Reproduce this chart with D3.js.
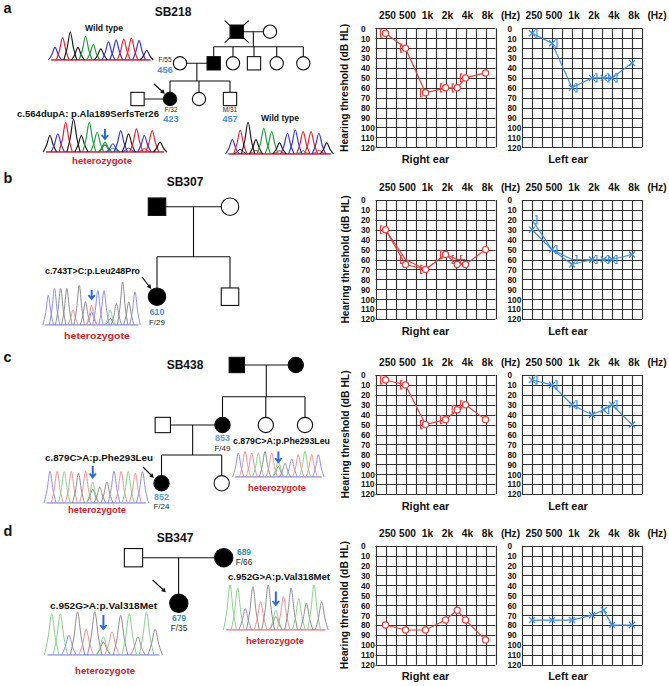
<!DOCTYPE html>
<html><head><meta charset="utf-8">
<script src="https://cdn.jsdelivr.net/npm/d3@7"></script>
<style>
body{margin:0;background:#fff}
svg{display:block}
text{font-family:Arial,"Liberation Sans",sans-serif}
</style>
</head><body>
<svg id="c" width="669" height="686"></svg>
<script>
// ================= DATA =================
const panelLetters = ["a","b","c","d"];
const familyIds = ["SB218","SB307","SB438","SB347"];
const freqs = [250,500,1000,2000,3000,4000,8000];
const freqTickValues = [250,500,1000,2000,4000,8000];
const freqTickLabels = ["250","500","1k","2k","4k","8k"];
const dbTicks = [0,10,20,30,40,50,60,70,80,90,100,110,120];
const earTitles = ["Right ear","Left ear"];
const yTitle = "Hearing threshold (dB HL)";

// audiogram thresholds (dB HL) at freqs; null = not measured
const rightAirA  = [5,20,65,60,60,50,45];
const rightBoneA = [5,20,65,60,60,50,null];
const leftAirA   = [5,15,60,50,50,50,35];
const leftBoneA  = [5,15,60,50,50,50,null];
const rightAirB  = [30,65,70,55,65,65,50];
const rightBoneB = [30,60,70,55,60,60,null];
const leftAirB   = [30,50,65,60,60,60,55];
const leftBoneB  = [20,50,60,60,60,60,null];
const rightAirC  = [5,10,50,45,35,30,45];
const rightBoneC = [5,10,50,45,35,30,null];
const leftAirC   = [5,10,30,40,35,30,50];
const leftBoneC  = [5,10,30,null,35,30,null];
const rightAirD  = [80,85,85,75,65,75,95];
const leftAirD   = [75,75,75,70,65,80,80];

// variant labels
const variantA = "c.564dupA: p.Ala189SerfsTer26";
const variantB = "c.743T>C:p.Leu248Pro";
const variantC = "c.879C>A:p.Phe293Leu";
const variantD = "c.952G>A:p.Val318Met";
const hetLabel = "heterozygote";
const wtLabel = "Wild type";

// chromatogram peaks: base calls and relative peak heights
const chromA1Bases = "CTGGAAGCCTTCG";
const chromA1Heights = [.45,.8,1,.45,.85,.55,.4,.65,.72,.75,.78,.7,.35];
const chromA2Bases = "GCTGGAAACCGTCTG";
const chromA2Heights = [.5,.55,.9,1,.5,.9,.6,.3,.25,.65,.55,.7,.5,.65,.3];
const chromA2Minor = [[7,"G",.22],[8,"A",.12],[10,"C",.12],[12,"T",.1]];
const chromA3Bases = "CTGGAAGCCTTCG";
const chromA3Heights = [.45,.75,1,.45,.8,.7,.35,.65,.75,.7,.7,.65,.35];
const chromA3Minor = [[1,"G",.15],[3,"T",.12],[6,"T",.1],[9,"A",.1],[11,"T",.12]];
const chromBBases = "CCGGTGGTCCAGGGC";
const chromBHeights = [.69,.85,.85,.85,.35,.92,.54,.46,.8,.8,.35,.5,1,.54,.77];
const chromBMinor = [[7,"C",.3],[10,"G",.15]];
const chromC1Bases = "CTATGTAGGCTATC";
const chromC1Heights = [.9,.9,.9,.9,.85,.9,.6,.45,.6,.9,.9,.9,.85,.9];
const chromC1Minor = [[6,"G",.4]];
const chromC2Bases = "CTTAGTAGCTATC";
const chromC2Heights = [.8,.85,.8,.8,.85,.8,.55,.45,.6,.75,.85,.75,.75];
const chromC2Minor = [[6,"G",.35]];
const chromD1Bases = "AACGTGATGAGAG";
const chromD1Heights = [.96,.96,.46,1,.6,1,.42,.54,.92,.96,.42,1,.6];
const chromD1Minor = [[6,"G",.3]];
const chromD2Bases = "AACGTGATGAGAG";
const chromD2Heights = [1,.93,.48,.96,.63,1,.44,.74,.93,.7,.6,1,.63];
const chromD2Minor = [[6,"G",.3]];

// pedigree members: sex, affected, deceased, age label, sample id
const pedA = [
  {sex:"M",aff:1,dead:1},{sex:"F",aff:0},
  {sex:"F",aff:0,age:"F/55",num:"456"},{sex:"M",aff:1},{sex:"F",aff:0},{sex:"M",aff:0},{sex:"F",aff:0},{sex:"F",aff:0},
  {sex:"M",aff:0},{sex:"F",aff:1,age:"F/32",num:"423",proband:1},{sex:"F",aff:0},{sex:"M",aff:0,age:"M/31",num:"457"}
];
const pedACouples = [[0,1],[2,3],[8,9]];
const pedASibs = [{couple:0,kids:[3,4,5,6,7]},{couple:1,kids:[9,10,11]}];
const pedB = [{sex:"M",aff:1},{sex:"F",aff:0},{sex:"F",aff:1,num:"610",age:"F/29",proband:1},{sex:"M",aff:0}];
const pedBCouples = [[0,1]];
const pedBSibs = [{couple:0,kids:[2,3]}];
const pedC = [{sex:"M",aff:1},{sex:"F",aff:1},
  {sex:"M",aff:0},{sex:"F",aff:1,num:"853",age:"F/49"},{sex:"F",aff:0},{sex:"F",aff:0},
  {sex:"F",aff:1,num:"852",age:"F/24",proband:1},{sex:"F",aff:0}];
const pedCCouples = [[0,1],[2,3]];
const pedCSibs = [{couple:0,kids:[3,4,5]},{couple:1,kids:[6,7]}];
const pedD = [{sex:"M",aff:0},{sex:"F",aff:1,num:"689",age:"F/66"},{sex:"F",aff:1,num:"679",age:"F/35",proband:1}];
const pedDCouples = [[0,1]];
const pedDSibs = [{couple:0,kids:[2]}];

// ================= LAYOUT =================
const svg = d3.select("#c");
const RED = "#e8403c", BLUE = "#3c8fe2";
const GRID_W = 120, GRID_H = 119;
const gridTops = [28.3, 200, 375, 545.7];
const rightX0 = 375.5, leftX0 = 522;
const rowLetterY = [8, 178, 357, 531];
const famTitlePos = [[173,12],[185,182],[185,365],[175,538]];

function txt(x,y,str,o={}){
  const t = svg.append("text").attr("x",x).attr("y",y).attr("dominant-baseline","central")
    .attr("text-anchor",o.anchor||"middle").attr("font-size",o.size||10)
    .attr("font-weight",o.weight||"normal").attr("fill",o.fill||"#000").text(str);
  if(o.len) t.attr("textLength",o.len).attr("lengthAdjust","spacingAndGlyphs");
  if(o.rotate!=null) t.attr("transform",`rotate(${o.rotate},${x},${y})`);
  return t;
}

// ---------- Audiogram ----------
function audiogram(x0, y0, air, bone, boneLine, color, ear){
  const g = svg.append("g");
  const x = d3.scaleLog().base(2).domain([250/Math.SQRT2, 8000*Math.SQRT2]).range([x0, x0+GRID_W]);
  const y = d3.scaleLinear().domain([0,120]).range([y0, y0+GRID_H]);
  const vLines = d3.range(13).map(k => 250/Math.SQRT2*Math.pow(2,k/2));
  g.selectAll(".v").data(vLines).join("line")
    .attr("x1",d=>Math.round(x(d))+.5).attr("x2",d=>Math.round(x(d))+.5)
    .attr("y1",y(0)).attr("y2",y(120)).attr("stroke","#333").attr("stroke-width",1.15);
  g.selectAll(".h").data(dbTicks).join("line")
    .attr("y1",d=>Math.round(y(d))+.5).attr("y2",d=>Math.round(y(d))+.5)
    .attr("x1",x0).attr("x2",x0+GRID_W).attr("stroke","#333").attr("stroke-width",1.15);

  const ax = d3.axisTop(x).tickValues(freqTickValues)
    .tickFormat(d=>freqTickLabels[freqTickValues.indexOf(d)]).tickSize(0).tickPadding(0);
  const axg = g.append("g").attr("transform",`translate(0,${y0-12.5})`).call(ax);
  axg.select(".domain").remove();
  axg.selectAll("text").attr("y",0).attr("dy","0.35em").attr("dx","1.5")
    .attr("font-size",10.2).attr("font-weight","bold").attr("fill","#111")
    .attr("font-family",'Arial,"Liberation Sans",sans-serif');
  txt(x0+135, y0-12.5, "(Hz)", {size:10.2, weight:"bold", fill:"#111"});

  const ay = d3.axisLeft(y).tickValues(dbTicks).tickSize(0).tickPadding(0);
  const ayg = g.append("g").attr("transform",`translate(${x0},0)`).call(ay);
  ayg.select(".domain").remove();
  ayg.selectAll("text").attr("x",-14.5).attr("text-anchor","start").attr("dy","0.35em")
    .attr("font-size",8.3).attr("font-weight","bold").attr("fill","#111")
    .attr("font-family",'Arial,"Liberation Sans",sans-serif');

  const pts = a => freqs.map((f,i)=>[f,a[i]]);
  const line = d3.line().defined(d=>d[1]!=null).x(d=>x(d[0])).y(d=>y(d[1]));
  if(bone && boneLine){
    g.append("path").attr("d",line(pts(bone))).attr("fill","none").attr("stroke",color).attr("stroke-width",1.2);
  }
  g.append("path").attr("d",line(pts(air))).attr("fill","none").attr("stroke",color).attr("stroke-width",1.2);

  const airPts = pts(air).filter(d=>d[1]!=null);
  if(ear==="R"){
    g.selectAll(".m").data(airPts).join("circle").attr("cx",d=>x(d[0])).attr("cy",d=>y(d[1]))
      .attr("r",3.1).attr("fill","#fff").attr("stroke",color).attr("stroke-width",1.2);
  } else {
    g.selectAll(".m").data(airPts).join("path")
      .attr("d",d=>{const cx=x(d[0]),cy=y(d[1]),s=3;return `M${cx-s},${cy-s}L${cx+s},${cy+s}M${cx-s},${cy+s}L${cx+s},${cy-s}`;})
      .attr("stroke",color).attr("stroke-width",1.3).attr("fill","none");
  }
  if(bone){
    const bp = pts(bone).filter(d=>d[1]!=null);
    g.selectAll(".b").data(bp).join("path")
      .attr("d",d=>{const cx=x(d[0]),cy=y(d[1]);
        return ear==="R" ? `M${cx-3},${cy-4}h-2v8h2` : `M${cx+3},${cy-4}h2v8h-2`;})
      .attr("stroke",color).attr("stroke-width",1.2).attr("fill","none");
  }
  txt(x0+50+(ear==="R"?0:-4), y0+GRID_H+11.5, ear==="R"?earTitles[0]:earTitles[1], {size:11, weight:"bold", fill:"#111"});
}

const audioRows = [
  [rightAirA,rightBoneA,leftAirA,leftBoneA,false],
  [rightAirB,rightBoneB,leftAirB,leftBoneB,true],
  [rightAirC,rightBoneC,leftAirC,leftBoneC,false],
  [rightAirD,null,leftAirD,null,false]
];
audioRows.forEach((r,i)=>{
  audiogram(rightX0, gridTops[i], r[0], r[1], r[4], RED, "R");
  audiogram(leftX0, gridTops[i], r[2], r[3], r[4], BLUE, "L");
  txt(345, gridTops[i]+GRID_H/2, yTitle, {size:10.3, weight:"bold", rotate:-90, fill:"#111"});
});

// ---------- Panel letters & family titles ----------
panelLetters.forEach((l,i)=>{
  txt(3.5, rowLetterY[i], l, {size:14.5, weight:"bold", anchor:"start", fill:"#111"});
  txt(famTitlePos[i][0], famTitlePos[i][1], familyIds[i], {size:12, weight:"bold", fill:"#111"});
});

// ---------- Chromatograms ----------
const BRIGHT = {A:"#1a9c3a",C:"#2f35d8",G:"#1a1a1a",T:"#e0212b"};
const PALE = {A:"#86d486",C:"#8f8fe8",G:"#8c8c8c",T:"#ec9393"};
function chrom(x0,w,y0,h,bases,heights,minor,pale,arrow){
  const col = pale?PALE:BRIGHT;
  const n = bases.length;
  const xi = d3.scaleLinear().domain([-0.5,n-0.5]).range([x0,x0+w]);
  const yh = d3.scaleLinear().domain([0,1]).range([y0+h,y0]);
  const g = svg.append("g");
  const peak = d3.line().curve(d3.curveMonotoneX).x(d=>xi(d[0])).y(d=>yh(d[1]));
  const shape = (i,hh)=>[[i-0.85,0],[i-0.42,hh*0.42],[i,hh],[i+0.42,hh*0.42],[i+0.85,0]];
  g.append("line").attr("x1",x0).attr("x2",x0+w).attr("y1",y0+h-0.3).attr("y2",y0+h-0.3)
    .attr("stroke",col.C).attr("stroke-width",0.9);
  g.append("line").attr("x1",x0).attr("x2",x0+w).attr("y1",y0+h+0.5).attr("y2",y0+h+0.5)
    .attr("stroke",col.T).attr("stroke-width",0.8).attr("opacity",0.8);
  (minor||[]).forEach(m=>{
    g.append("path").attr("d",peak(shape(m[0],m[2]))).attr("fill","none").attr("stroke",col[m[1]]).attr("stroke-width",1);
  });
  bases.split("").forEach((b,i)=>{
    g.append("path").attr("d",peak(shape(i,heights[i]))).attr("fill","none")
      .attr("stroke",col[b]).attr("stroke-width",pale?1:1.15);
  });
  if(arrow){
    const ax = xi(arrow[0]);
    g.append("path").attr("d",`M${ax},${arrow[1]}V${arrow[2]}M${ax-3.2},${arrow[2]-4}L${ax},${arrow[2]}L${ax+3.2},${arrow[2]-4}`)
      .attr("stroke","#2f6bd6").attr("stroke-width",2).attr("fill","none");
  }
}
chrom(51.2,99.3,32,28,chromA1Bases,chromA1Heights,null,false,null);
chrom(46,118,119,33,chromA2Bases,chromA2Heights,chromA2Minor,false,[7,129,139]);
chrom(228.4,102.3,122,32,chromA3Bases,chromA3Heights,chromA3Minor,false,null);
chrom(45.2,92.9,282,43,chromBBases,chromBHeights,chromBMinor,true,[7,290,299]);
chrom(46.5,99.5,468,35,chromC1Bases,chromC1Heights,chromC1Minor,true,[6,466,477.5]);
chrom(235,86.7,447,30,chromC2Bases,chromC2Heights,chromC2Minor,true,[6,451.5,462]);
chrom(47.4,112,612,43,chromD1Bases,chromD1Heights,chromD1Minor,true,[6,615,629]);
chrom(226.2,99.3,585,45,chromD2Bases,chromD2Heights,chromD2Minor,true,[6,591.5,605]);

// chromatogram texts
const HRED = "#d8222a";
txt(104,28,wtLabel,{size:8.8,weight:"bold",len:38,fill:"#111"});
txt(280,118,wtLabel,{size:8.8,weight:"bold",len:38,fill:"#111"});
txt(17,113,variantA,{size:9.4,weight:"bold",anchor:"start",len:142,fill:"#111"});
txt(102,160,hetLabel,{size:9.5,weight:"bold",len:60,fill:HRED});
txt(45,270,variantB,{size:9.8,weight:"bold",anchor:"start",len:95,fill:"#111"});
txt(97,335,hetLabel,{size:9.5,weight:"bold",len:66,fill:HRED});
txt(45,457,variantC,{size:9.8,weight:"bold",anchor:"start",len:108,fill:"#111"});
txt(97,509,hetLabel,{size:9.5,weight:"bold",len:58,fill:HRED});
txt(233,441,variantC,{size:9.2,weight:"bold",anchor:"start",len:97,fill:"#111"});
txt(277,487,hetLabel,{size:9.5,weight:"bold",len:58,fill:HRED});
txt(50,605,variantD,{size:9.8,weight:"bold",anchor:"start",len:107,fill:"#111"});
txt(105,670,hetLabel,{size:9.5,weight:"bold",len:60,fill:HRED});
txt(228,576.7,variantD,{size:9.8,weight:"bold",anchor:"start",len:102,fill:"#111"});
txt(275,640,hetLabel,{size:9.5,weight:"bold",len:58,fill:HRED});

// ---------- Pedigrees ----------
const pedLayouts = [
  {members:pedA, couples:pedACouples, sibs:pedASibs,
   xs:[236.7,270, 180,213.7,233,254,276.7,303.3, 137.5,170,199,230],
   gens:[0,0,1,1,1,1,1,1,2,2,2,2], genY:[31.7,63.3,99], sibY:[46.7,81], s:13.3,
   numColor:"#4a8fe6", arrow:[154,84,164,93], labels:{2:[165,59,165,70], 9:[171,109.3,171,119], 11:[230,109.3,230,119]},
   ageSize:6.5, numSize:9.3},
  {members:pedB, couples:pedBCouples, sibs:pedBSibs,
   xs:[157,230,157,230], gens:[0,0,1,1], genY:[206.7,296.7], sibY:[256.7], s:17.5,
   numColor:"#4a8fe6", arrow:[142,277,150.5,288], labels:{2:[157,322.7,157,311.7]},
   ageSize:8, numSize:8.8},
  {members:pedC, couples:pedCCouples, sibs:pedCSibs,
   xs:[236.8,295.8, 162.8,222.5,265.8,305, 161.5,221.7], gens:[0,0,1,1,1,1,2,2],
   genY:[365,425,483.3], sibY:[396.7,455], s:15.3,
   numColor:"#5a9de6", arrow:[143,467,153,477], labels:{3:[222.5,448,222.5,437.5], 6:[161.5,506,161.5,496.5]},
   ageSize:8, numSize:9},
  {members:pedD, couples:pedDCouples, sibs:pedDSibs,
   xs:[133.5,223.7,178.8], gens:[0,0,1], genY:[557.7,603.3], sibY:[580], s:18.3,
   numColor:"#2c97b8", arrow:[152.7,580,165,591.5], labels:{1:[244,562,244,551.5], 2:[179,628,179,617.5]},
   ageSize:8.3, numSize:8.5}
];

pedLayouts.forEach(P=>{
  const g = svg.append("g");
  const X = i=>P.xs[i], Y = i=>P.genY[P.gens[i]];
  const L = (x1,y1,x2,y2)=>g.append("line").attr("x1",x1).attr("y1",y1).attr("x2",x2).attr("y2",y2)
    .attr("stroke","#111").attr("stroke-width",1.1);
  P.couples.forEach(c=>L(X(c[0]),Y(c[0]),X(c[1]),Y(c[1])));
  P.sibs.forEach((sb,k)=>{
    const c = P.couples[sb.couple];
    const mx = (X(c[0])+X(c[1]))/2, py = Y(c[0]);
    const kidY = Y(sb.kids[0]);
    if(sb.kids.length===1){ L(mx,py,mx,kidY-P.s/2); return; }
    const sy = P.sibY[k];
    L(mx,py,mx,sy);
    const kx = sb.kids.map(X);
    L(Math.min(...kx,mx),sy,Math.max(...kx,mx),sy);
    sb.kids.forEach(kd=>L(X(kd),sy,X(kd),Y(kd)-P.s/2));
  });
  P.members.forEach((m,i)=>{
    const x=X(i), y=Y(i), s=P.s, fill=m.aff?"#000":"#fff";
    if(m.dead){
      g.append("line").attr("x1",x-12).attr("y1",y-11).attr("x2",x+12).attr("y2",y+11).attr("stroke","#111").attr("stroke-width",1.1);
      g.append("line").attr("x1",x-12).attr("y1",y+11).attr("x2",x+12).attr("y2",y-11).attr("stroke","#111").attr("stroke-width",1.1);
    }
    if(m.sex==="M") g.append("rect").attr("x",x-s/2).attr("y",y-s/2).attr("width",s).attr("height",s)
      .attr("fill",fill).attr("stroke","#111").attr("stroke-width",1.1);
    else g.append("circle").attr("cx",x).attr("cy",y).attr("r",s/2).attr("fill",fill).attr("stroke","#111").attr("stroke-width",1.1);
    const lb = P.labels[i];
    if(lb){
      txt(lb[0],lb[1],m.age,{size:P.ageSize,fill:"#222"});
      txt(lb[2],lb[3],m.num,{size:P.numSize,weight:"bold",fill:P.numColor});
    }
  });
  const a = P.arrow;
  const ang = Math.atan2(a[3]-a[1],a[2]-a[0]);
  const hl=3.6;
  g.append("path").attr("d",`M${a[0]},${a[1]}L${a[2]},${a[3]}M${a[2]-hl*Math.cos(ang-0.5)},${a[3]-hl*Math.sin(ang-0.5)}L${a[2]},${a[3]}L${a[2]-hl*Math.cos(ang+0.5)},${a[3]-hl*Math.sin(ang+0.5)}`)
    .attr("stroke","#111").attr("stroke-width",1.2).attr("fill","none");
});
</script>
</body></html>
